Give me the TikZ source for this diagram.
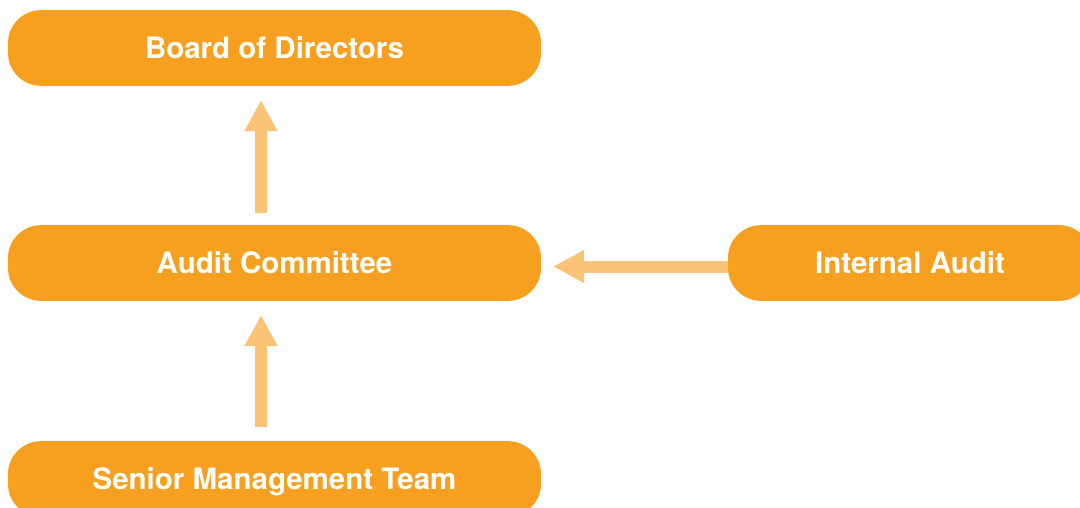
\documentclass[tikz,border=0pt]{standalone}
\usepackage{fontspec}
\setmainfont{TeX Gyre Heros}
\usetikzlibrary{arrows.meta}
\definecolor{boxorange}{RGB}{247,159,31}
\definecolor{arrowpeach}{RGB}{251,195,118}
\begin{document}
\begin{tikzpicture}[x=1pt,y=-1pt,
  orgbox/.style={fill=boxorange, rounded corners=33pt, minimum height=75.7pt,
    text=white, font=\fontsize{29.5}{34}\selectfont\bfseries, inner sep=0pt,
    text height=21pt, text depth=0pt},
  flow/.style={draw=arrowpeach, line width=12pt, line cap=butt,
    -{Triangle[length=31pt,width=31pt]}}]
\useasboundingbox (0,0) rectangle (1080,508);
\clip (0,0) rectangle (1080,508);

% reporting bodies
\node[orgbox, minimum width=533pt] (board) at (274.5,48) {Board of Directors};
\node[orgbox, minimum width=533pt] (audit) at (274.5,263) {Audit Committee};
\node[orgbox, minimum width=364pt] (internal) at (910,263) {Internal Audit};
\node[orgbox, minimum width=533pt] (senior) at (274.5,479) {Senior Management Team};

% reporting lines
\draw[flow, shorten <=12pt, shorten >=14pt]
  ([xshift=-13.5pt]audit.north) -- ([xshift=-13.5pt]board.south);
\draw[flow, shorten <=14pt, shorten >=14pt]
  ([xshift=-13.5pt]senior.north) -- ([xshift=-13.5pt]audit.south);
\draw[flow, shorten >=12pt]
  ([yshift=-3.5pt]internal.west) -- ([yshift=-3.5pt]audit.east);
\end{tikzpicture}
\end{document}
